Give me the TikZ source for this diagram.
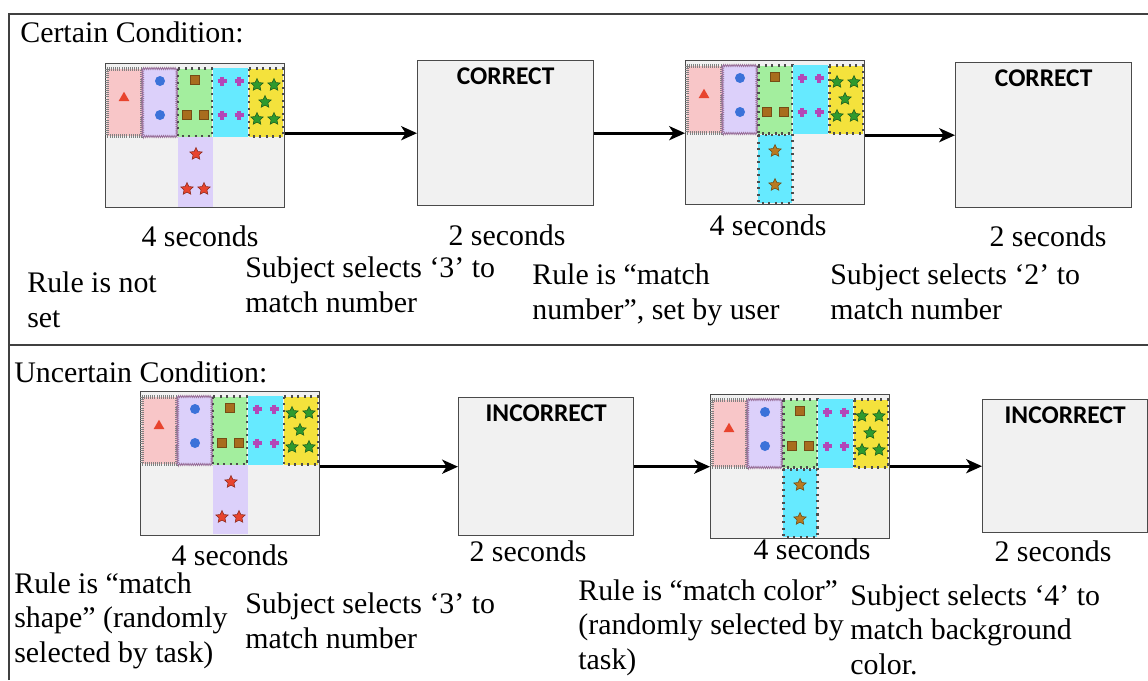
\documentclass[tikz,border=0pt]{standalone}
\usepackage{fontspec}
\setmainfont{Liberation Serif}
\newfontfamily\fbfont{Carlito}
\usetikzlibrary{positioning,shapes.geometric,arrows.meta,decorations.pathmorphing}
\definecolor{scrbg}{RGB}{241,241,241}
\definecolor{scrline}{RGB}{74,74,74}
\definecolor{cpink}{RGB}{248,198,200}
\definecolor{clav}{RGB}{220,208,250}
\definecolor{cgreen}{RGB}{163,238,158}
\definecolor{ccyan}{RGB}{102,234,255}
\definecolor{cyellow}{RGB}{244,226,60}
\definecolor{sred}{RGB}{232,68,46}
\definecolor{sblue}{RGB}{59,114,217}
\definecolor{sbrown}{RGB}{168,109,30}
\definecolor{smag}{RGB}{179,71,184}
\definecolor{sgreen}{RGB}{46,154,46}
\definecolor{sorange}{RGB}{184,122,32}
\tikzset{every picture/.style={x=0.02cm,y=-0.02cm}}
\tikzset{frame/.style={draw=black!75,line width=1.1pt}}
\tikzset{screen/.style={draw=scrline,fill=scrbg,line width=0.8pt,minimum width=3.58cm,minimum height=2.88cm,inner sep=0,anchor=north west}}
\tikzset{fbbox/.style={draw=scrline,fill=scrbg,line width=0.8pt,minimum width=3.52cm,minimum height=2.9cm,inner sep=0,anchor=north west}}
\tikzset{fbtext/.style={font=\fbfont\bfseries\fontsize{14.5}{16}\selectfont,inner sep=0}}
\tikzset{edge/.style={-{Stealth[length=9pt,width=8pt,inset=2.5pt]},line width=1.6pt}}
\tikzset{txt/.style={font=\fontsize{17}{19.6}\selectfont,inner sep=0,align=left,anchor=base west}}
\tikzset{secs/.style={font=\fontsize{17}{19.6}\selectfont,inner sep=0,anchor=base}}
\tikzset{combline/.style={draw=black!50,line width=2pt,dash pattern=on 0.45pt off 0.75pt}}
\tikzset{zigline/.style={draw=violet!40!gray!80,line width=0.45pt,decorate,decoration={zigzag,amplitude=0.6pt,segment length=1.2pt}}}
\tikzset{dotline/.style={draw=black!70,line width=1.7pt,dash pattern=on 1.3pt off 2.4pt}}
\tikzset{tri/.style={regular polygon,regular polygon sides=3,fill=sred,inner sep=0,minimum size=0.25cm}}
\tikzset{dot/.style={circle,fill=sblue,inner sep=0,minimum size=0.2cm}}
\tikzset{sq/.style={rectangle,fill=sbrown,draw=sbrown!70!black,line width=0.3pt,inner sep=0,minimum size=0.175cm}}
\tikzset{plus/.style={smag,line width=2.4pt}}
\tikzset{pstar/.style={star,star points=5,star point ratio=2.1,inner sep=0,minimum size=0.26cm,line width=0.3pt}}
\newcommand{\cardrow}{%
  \draw[fill=cpink,combline] (2,6) rectangle (36.5,73);
  \node[tri] at (19,35) {};
  \fill[clav] (37,5) rectangle (72,74);
  \draw[zigline] (37.5,5.5) rectangle (72,73.5);
  \node[dot] at (55,18) {};
  \node[dot] at (55,52) {};
  \draw[fill=cgreen,dotline] (73,5.5) rectangle (107,73.5);
  \node[sq] at (90,17) {};
  \node[sq] at (82,52) {};
  \node[sq] at (99,52) {};
  \fill[ccyan] (107.5,5) rectangle (143,74);
  \foreach \px/\py in {117/18,134/18,117/52,134/52}
    \draw[plus] (\px-4.5,\py) -- (\px+4.5,\py) (\px,\py-4.5) -- (\px,\py+4.5);
  \draw[fill=cyellow,dotline] (144,5.5) rectangle (178,73.5);
  \foreach \px/\py in {152/22,169/22,160/39,152/56,169/56}
    \node[pstar,fill=sgreen,draw=sgreen!60!black] at (\px,\py) {};
}

\begin{document}
\begin{tikzpicture}
\useasboundingbox (0,0) rectangle (1148,680);
% frame
\draw[frame] (9,680) -- (9,14) -- (1148,14);
\draw[frame] (9,345) -- (1148,345);
\node[txt] (hc) at (20,42) {Certain Condition:};
\node[txt] (hu) at (14,382) {Uncertain Condition:};

% certain row
\node[screen] (s1) at (105,63) {};
\node[fbbox] (f1) at (417,60) {};
\node[screen] (s2) at (685,60) {};
\node[fbbox] (f2) at (955,62) {};
\node[fbtext,below=0.14cm of f1.north] (c1) {CORRECT};
\node[fbtext,below=0.14cm of f2.north] (c2) {CORRECT};
\begin{scope}[shift={(s1.north west)}]
  \cardrow
  \fill[clav] (72.5,74) rectangle (107.5,144);
  \node[pstar,fill=sred,draw=sred!60!black] at (91,91) {};
  \node[pstar,fill=sred,draw=sred!60!black] at (82,126) {};
  \node[pstar,fill=sred,draw=sred!60!black] at (99,126) {};
\end{scope}
\begin{scope}[shift={(s2.north west)}]
  \cardrow
  \draw[fill=ccyan,dotline] (73,75) rectangle (107,143);
  \node[pstar,fill=sorange,draw=sorange!60!black] at (90,91) {};
  \node[pstar,fill=sorange,draw=sorange!60!black] at (90,125) {};
\end{scope}
\draw[edge] (s1.east |- f1.west) -- (f1.west);
\draw[edge] (f1.east) -- (f1.east -| s2.west);
\draw[edge] (s2.east |- f2.west) -- (f2.west);
\node[secs] (t1) at (200,246) {4 seconds};
\node[secs] (t2) at (507,245) {2 seconds};
\node[secs] (t3) at (768,235) {4 seconds};
\node[secs] (t4) at (1048,246) {2 seconds};
\node[txt] (n1) at (27,327) {Rule is not\\set};
\node[txt] (n2) at (245,312) {Subject selects ‘3’ to\\match number};
\node[txt] (n3) at (532,319) {Rule is “match\\number”, set by user};
\node[txt] (n4) at (830,319) {Subject selects ‘2’ to\\match number};

% uncertain row
\node[screen] (s3) at (140,391) {};
\node[fbbox,minimum width=3.5cm,minimum height=2.76cm] (f3) at (458,397) {};
\node[screen] (s4) at (710,394) {};
\node[fbbox,minimum width=3.3cm,minimum height=2.66cm] (f4) at (982,399) {};
\node[fbtext,below=0.14cm of f3.north] (c3) {INCORRECT};
\node[fbtext,below=0.14cm of f4.north] (c4) {INCORRECT};
\begin{scope}[shift={(s3.north west)}]
  \cardrow
  \fill[clav] (72.5,74) rectangle (107.5,143);
  \node[pstar,fill=sred,draw=sred!60!black] at (91,91) {};
  \node[pstar,fill=sred,draw=sred!60!black] at (82,126) {};
  \node[pstar,fill=sred,draw=sred!60!black] at (99,126) {};
\end{scope}
\begin{scope}[shift={(s4.north west)}]
  \cardrow
  \draw[fill=ccyan,dotline] (73,75) rectangle (107,143);
  \node[pstar,fill=sorange,draw=sorange!60!black] at (90,91) {};
  \node[pstar,fill=sorange,draw=sorange!60!black] at (90,125) {};
\end{scope}
\draw[edge] (s3.east |- f3.west) -- (f3.west);
\draw[edge] (f3.east) -- (f3.east -| s4.west);
\draw[edge] (s4.east |- f4.west) -- (f4.west);
\node[secs] (t5) at (230,565) {4 seconds};
\node[secs] (t6) at (528,561) {2 seconds};
\node[secs] (t7) at (812,559) {4 seconds};
\node[secs] (t8) at (1053,561) {2 seconds};
\node[txt] (n5) at (14,662) {Rule is “match\\shape” (randomly\\selected by task)};
\node[txt] (n6) at (245,648) {Subject selects ‘3’ to\\match number};
\node[txt] (n7) at (578,669) {Rule is “match color”\\(randomly selected by\\task)};
\node[txt] (n8) at (850,674) {Subject selects ‘4’ to\\match background\\color.};
\end{tikzpicture}
\end{document}
